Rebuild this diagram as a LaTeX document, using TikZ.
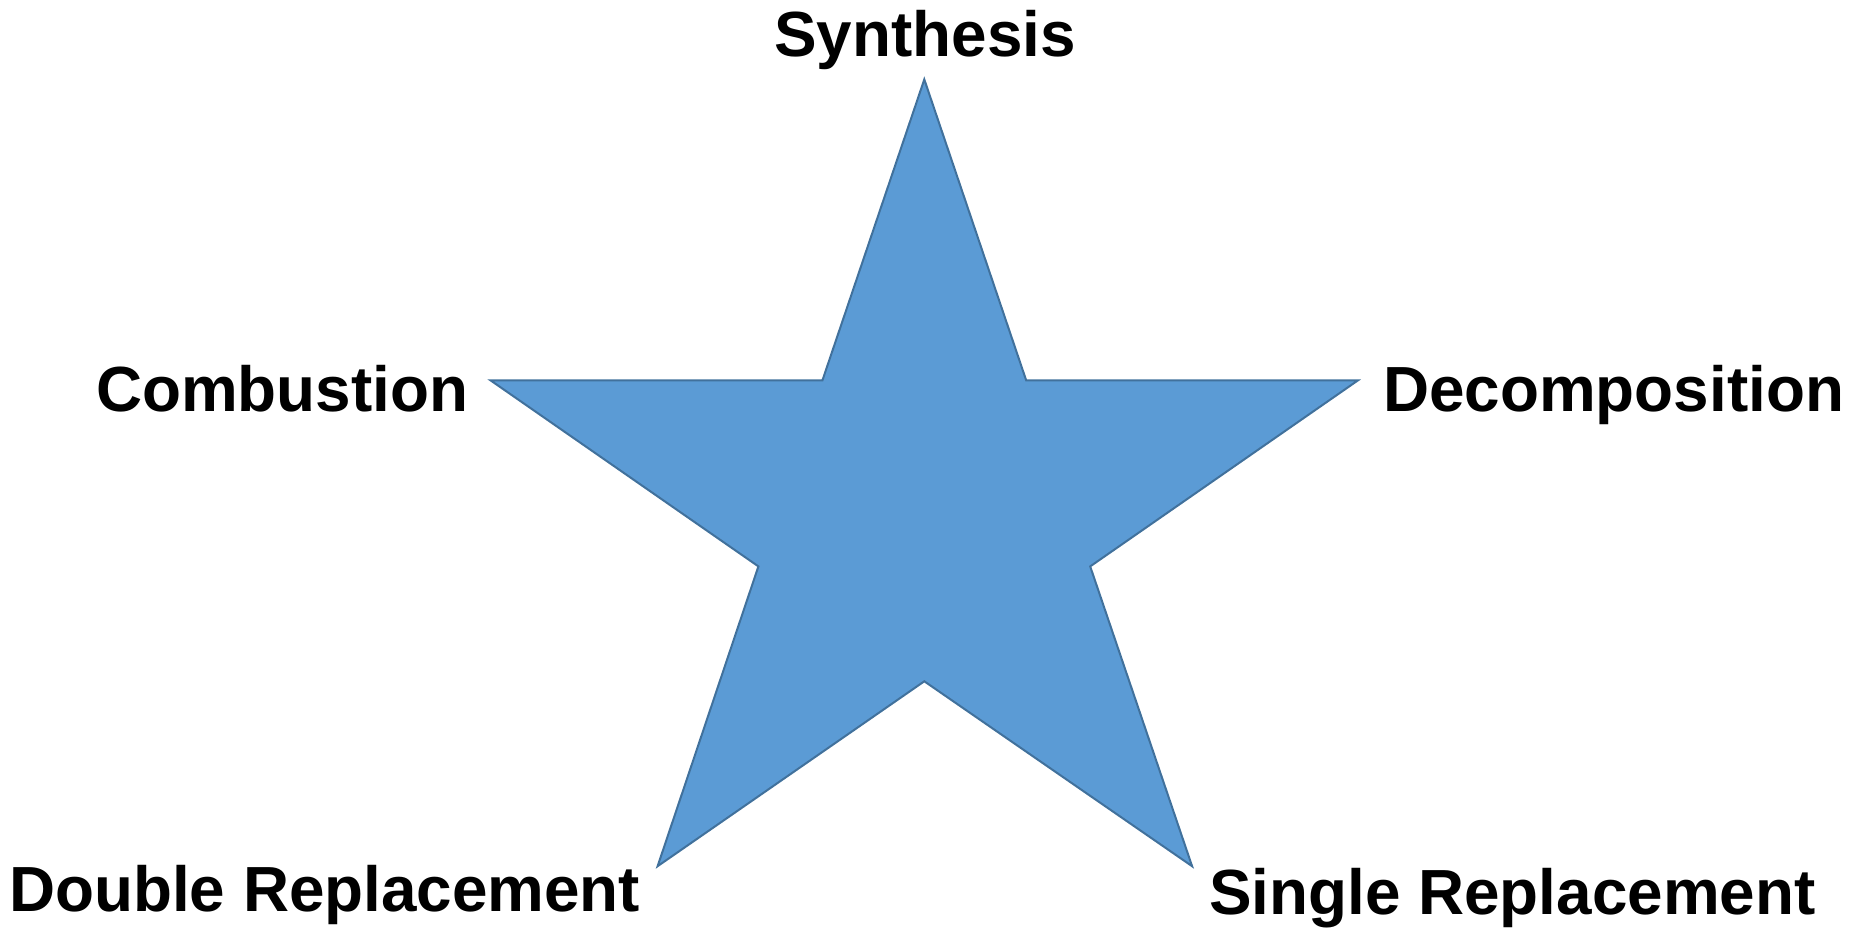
\documentclass[tikz,border=0pt]{standalone}
\usepackage{fontspec}
\setmainfont{Liberation Sans}
\definecolor{starfill}{HTML}{5B9BD5}
\definecolor{stardraw}{HTML}{41719C}
\begin{document}
\begin{tikzpicture}[x=1pt,y=-1pt,
  lbl/.style={inner sep=0pt,font=\bfseries\fontsize{63.8}{76}\selectfont},
  starshape/.style={fill=starfill,draw=stardraw,line width=2pt,line join=miter}]
\useasboundingbox (0,0) rectangle (1858,929);
\draw[starshape] (924.3,79.4) -- (1026.2,380.4) -- (1357.9,380.4) -- (1090.2,566.4)
  -- (1192.1,866.2) -- (924.3,681.3) -- (657.6,866.2) -- (758.4,566.4)
  -- (490.6,380.4) -- (822.4,380.4) -- cycle;
\node[lbl,anchor=base] (syn) at (925,56) {Synthesis};
\node[lbl,anchor=base west] (comb) at (96,411) {Combustion};
\node[lbl,anchor=base west] (dec) at (1383,411) {Decomposition};
\node[lbl,anchor=base west] (dbl) at (9,911) {Double Replacement};
\node[lbl,anchor=base west] (sgl) at (1209,914) {Single Replacement};
\end{tikzpicture}
\end{document}
